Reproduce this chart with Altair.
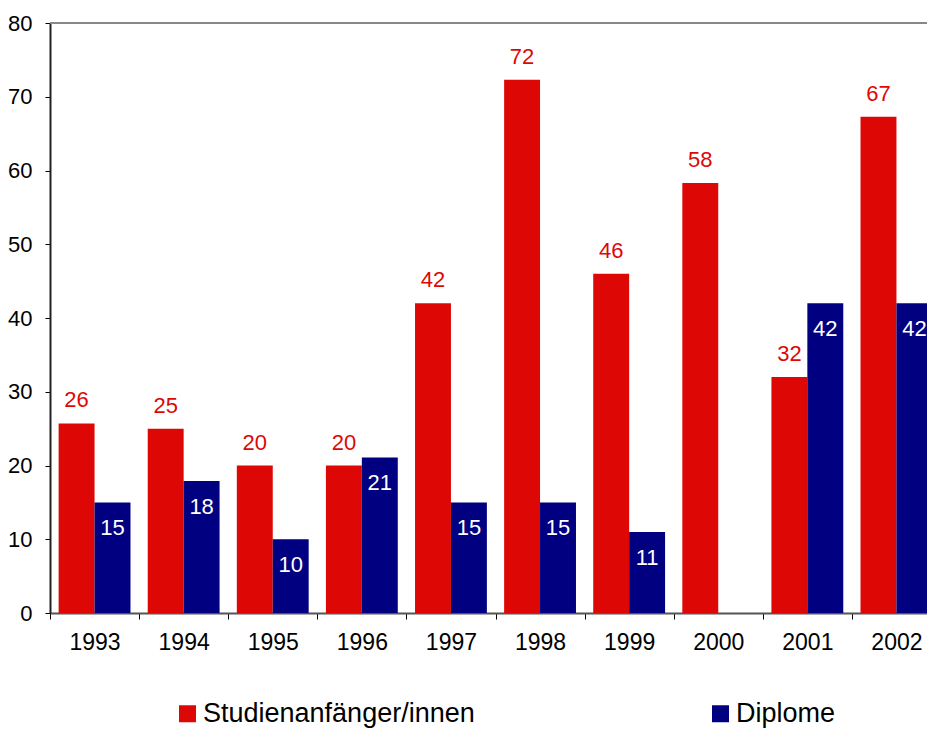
import altair as alt
import pandas as pd

years = ["1993", "1994", "1995", "1996", "1997", "1998", "1999", "2000", "2001", "2002"]
anfaenger = [25.7, 25, 20, 20, 42, 72.3, 46, 58.3, 32, 67.3]
diplome = [15, 17.9, 10, 21.1, 15, 15, 11, None, 42, 42]
series = ["Studienanfänger/innen", "Diplome"]
colors = ["#DD0806", "#000080"]

rows = []
for y, a, d in zip(years, anfaenger, diplome):
    rows.append({"Jahr": y, "Serie": series[0], "Wert": a})
    rows.append({"Jahr": y, "Serie": series[1], "Wert": d})
df = pd.DataFrame(rows)

FONT = "Liberation Sans"
FULL_W = 891  # full plot width; the right edge is cut off by the page, as in the reference

x = alt.X("Jahr:N", sort=years,
          scale=alt.Scale(paddingInner=0, paddingOuter=0, range=[0, FULL_W]),
          axis=alt.Axis(title=None, labelAngle=0, tickBand="extent", labelFont=FONT,
                        labelFontSize=23, labelColor="#000", labelPadding=12,
                        tickSize=6, tickColor="#000", domainColor="#555", domainWidth=2,
                        grid=False))
xoff = alt.XOffset("Serie:N", sort=series,
                   scale=alt.Scale(paddingInner=0, paddingOuter=0.24))
y = alt.Y("Wert:Q", scale=alt.Scale(domain=[0, 80]),
          axis=alt.Axis(title=None, values=list(range(0, 90, 10)), labelFont=FONT,
                        labelFontSize=22, labelColor="#000", labelPadding=13,
                        tickSize=5, tickColor="#000", domainColor="#222", domainWidth=2,
                        grid=False))

base = alt.Chart(df).encode(x=x, xOffset=xoff, y=y)

bars = base.mark_bar().encode(
    color=alt.Color("Serie:N", sort=series,
                    scale=alt.Scale(domain=series, range=colors),
                    legend=alt.Legend(title=None, orient="none", legendX=124, legendY=677,
                                      direction="horizontal", columns=2,
                                      symbolType="square", symbolSize=289,
                                      symbolStrokeWidth=0, symbolOpacity=1,
                                      labelFont=FONT, labelFontSize=27, labelColor="#000",
                                      labelLimit=0, labelOffset=2, columnPadding=232))
)

red_text = base.mark_text(font=FONT, fontSize=22, color="#DD0806",
                          baseline="alphabetic", dy=-16).encode(
    text=alt.Text("Wert:Q", format=".0f")
).transform_filter(alt.datum.Serie == series[0])

blue_text = base.mark_text(font=FONT, fontSize=22, color="#FFFFFF",
                           baseline="alphabetic", dy=33).encode(
    text=alt.Text("Wert:Q", format=".0f")
).transform_filter((alt.datum.Serie == series[1]) & (alt.datum.Wert != None))

top_line = alt.Chart(pd.DataFrame({"a": [0]})).mark_rule(color="#888888", strokeWidth=2).encode(
    x=alt.value(0), x2=alt.value(FULL_W), y=alt.value(0)
)

chart = alt.layer(bars, red_text, blue_text, top_line).properties(
    width=877, height=590,
    autosize=alt.AutoSizeParams(type="none"),
    padding={"left": 42, "top": 15, "right": 0, "bottom": 122},
).configure_view(stroke=None)

chart.save("out.html", embed_options={"renderer": "svg", "actions": False})
